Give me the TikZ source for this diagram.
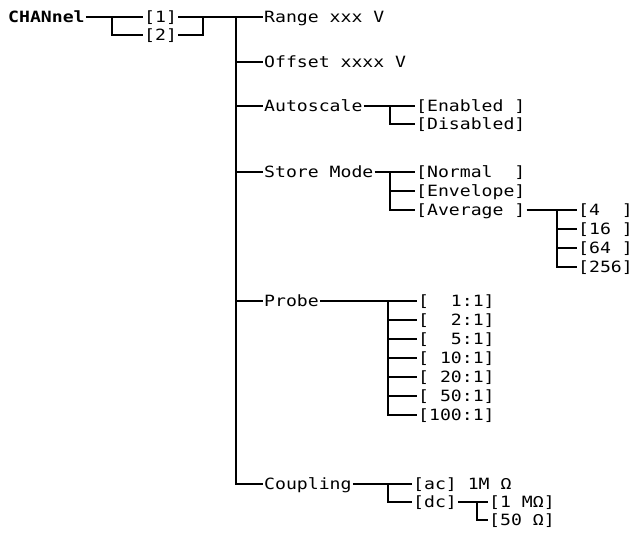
\documentclass[tikz,border=0pt]{standalone}
\usepackage{fontspec}
\usepackage{tikz}
\newfontfamily\menufont[FakeStretch=1.17]{DejaVu Sans Mono}
\newcommand{\gap}{\phantom{0}}
\newcommand{\menuitem}[4]{\node[item] (#1) at ({#2},{#3}) {#4};}
\newcommand{\branchto}[2]{\draw[link] (#1) |- (#2.west);}
\tikzset{
  item/.style={anchor=west, inner sep=1pt, text height=11pt, text depth=0pt, font=\menufont\fontsize{15.5}{15.5}\selectfont},
  link/.style={line width=1.1pt}
}

\begin{document}
\begin{tikzpicture}[x=1pt,y=-1pt]
\useasboundingbox (0,0) rectangle (642,536);
% channel select
\menuitem{chan}{7}{17}{\bfseries CHANnel}
\menuitem{chone}{143}{17}{[1]}
\menuitem{chtwo}{143}{35}{[2]}
\coordinate (chanb) at (112,17);
\coordinate (chjoin) at (203,17);
\draw[link] (chan.east) -- (chone.west);
\branchto{chanb}{chtwo}
\draw[link] (chtwo.east) -| (chjoin);
% main list
\menuitem{range}{263}{17}{Range\gap xxx\gap V}
\menuitem{offset}{263}{62}{Offset\gap xxxx\gap V}
\menuitem{autoscale}{263}{106}{Autoscale}
\menuitem{store}{263}{172}{Store\gap Mode}
\menuitem{probe}{263}{301}{Probe}
\menuitem{coupling}{263}{484}{Coupling}
\coordinate (mainb) at (236,17);
\draw[link] (chone.east) -- (range.west);
\foreach \n in {offset,autoscale,store,probe,coupling}{
  \branchto{mainb}{\n}
}
% autoscale
\menuitem{enabled}{415}{106}{[Enabled\gap]}
\menuitem{disabled}{415}{124}{[Disabled]}
\coordinate (autob) at (390,106);
\draw[link] (autoscale.east) -- (enabled.west);
\branchto{autob}{disabled}
% store mode
\menuitem{normal}{415}{172}{[Normal\gap\gap]}
\menuitem{envelope}{415}{191}{[Envelope]}
\menuitem{average}{415}{210}{[Average\gap]}
\coordinate (storeb) at (390,172);
\draw[link] (store.east) -- (normal.west);
\branchto{storeb}{envelope}
\branchto{storeb}{average}
% averages
\foreach \t [count=\i] in {{4\gap\gap},{16\gap},{64\gap},{256}}{
  \menuitem{avg\i}{577}{210+19*(\i-1)}{[\t]}
}
\coordinate (avgb) at (557,210);
\draw[link] (average.east) -- (avg1.west);
\foreach \i in {2,3,4}{
  \branchto{avgb}{avg\i}
}
% probe
\foreach \t [count=\i] in {{\gap\gap1:1},{\gap\gap2:1},{\gap\gap5:1},{\gap10:1},{\gap20:1},{\gap50:1},{100:1}}{
  \menuitem{pr\i}{417}{301+19*(\i-1)}{[\t]}
}
\coordinate (probeb) at (388,301);
\draw[link] (probe.east) -- (pr1.west);
\foreach \i in {2,...,7}{
  \branchto{probeb}{pr\i}
}
% coupling
\menuitem{ac}{412}{484}{[ac]\gap 1M\gap Ω}
\menuitem{dc}{412}{502}{[dc]}
\menuitem{onemeg}{488}{502}{[1\gap MΩ]}
\menuitem{fifty}{488}{520}{[50\gap Ω]}
\coordinate (coupb) at (388,484);
\coordinate (dcb) at (477,502);
\draw[link] (coupling.east) -- (ac.west);
\branchto{coupb}{dc}
\draw[link] (dc.east) -- (onemeg.west);
\branchto{dcb}{fifty}
\end{tikzpicture}
\end{document}
